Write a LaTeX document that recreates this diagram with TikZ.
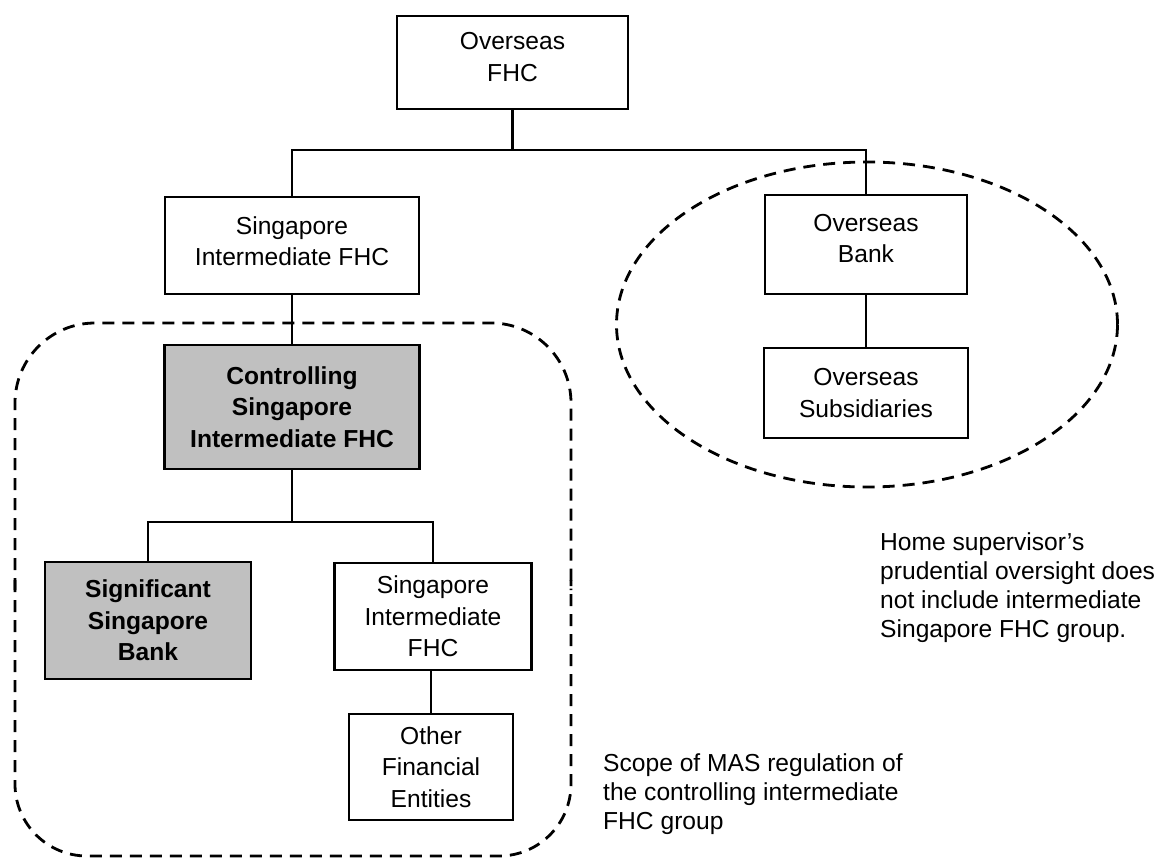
\documentclass[tikz,border=0pt]{standalone}
\usepackage{fontspec}
\setmainfont{Liberation Sans}
\usetikzlibrary{shapes.geometric}
\definecolor{boxgray}{RGB}{192,192,192}
\tikzset{
  entity/.style={draw=black, line width=2.9pt, fill=white, inner sep=0pt,
    align=center, font=\fontsize{24.6}{31.5}\selectfont},
  keyentity/.style={entity, fill=boxgray,
    font=\fontsize{24.6}{31.5}\selectfont\bfseries},
  link/.style={draw=black, line width=2.7pt},
  boundary/.style={draw=black, line width=2.8pt, dash pattern=on 12pt off 8pt},
  note/.style={inner sep=0pt, align=left, anchor=north west,
    font=\fontsize{24.6}{29}\selectfont}
}
\begin{document}
\begin{tikzpicture}[x=1pt, y=-1pt]
\useasboundingbox (0,0) rectangle (1157,863);

% regulatory boundaries
\node[boundary, ellipse, minimum width=501pt, minimum height=325pt]
  (homescope) at (867,324.5) {};
\draw[boundary, rounded corners=80pt] (15,590) -- (15,323) -- (571,323) -- (571,590);
\draw[boundary, rounded corners=72pt] (15,580) -- (15,856) -- (571,856) -- (571,580);

% entities
\node[entity, minimum width=231pt, minimum height=93pt, text depth=11pt] (ofhc) at (512.5,62.5) {Overseas\\FHC};
\node[entity, minimum width=254pt, minimum height=97pt, text depth=9pt] (sifhc) at (292,245.5) {Singapore\\Intermediate FHC};
\node[entity, minimum width=202pt, minimum height=99pt, text depth=12pt] (obank) at (866,244.5) {Overseas\\Bank};
\node[entity, minimum width=204pt, minimum height=90pt] (osub) at (866,393) {Overseas\\Subsidiaries};
\node[keyentity, minimum width=255pt, minimum height=124pt] (ctrl) at (292,407) {Controlling\\Singapore\\Intermediate FHC};
\node[keyentity, minimum width=206pt, minimum height=117pt] (sigb) at (148,620.5) {Significant\\Singapore\\Bank};
\node[entity, minimum width=197pt, minimum height=107pt] (sif2) at (433,616.5) {Singapore\\Intermediate\\FHC};
\node[entity, minimum width=164pt, minimum height=106pt] (other) at (431,767) {Other\\Financial\\Entities};

% ownership links
\coordinate (bus1) at (512.5,150);
\coordinate (bus2) at (292,522);
\draw[link] (ofhc.south) -- (bus1);
\draw[link] (sifhc.north) |- (bus1) -| (obank.north);
\draw[link] (obank.south) -- (osub.north);
\draw[link] (sifhc.south) -- (ctrl.north);
\draw[link] (ctrl.south) -- (bus2);
\draw[link] (sigb.north) |- (bus2) -| (sif2.north);
\draw[link] (sif2.south -| other.north) -- (other.north);

% annotations
\node[note] (homenote) at (880,532) {Home supervisor’s\\prudential oversight does\\not include intermediate\\Singapore FHC group.};
\node[note] (masnote) at (603,753) {Scope of MAS regulation of\\the controlling intermediate\\FHC group};
\end{tikzpicture}
\end{document}
